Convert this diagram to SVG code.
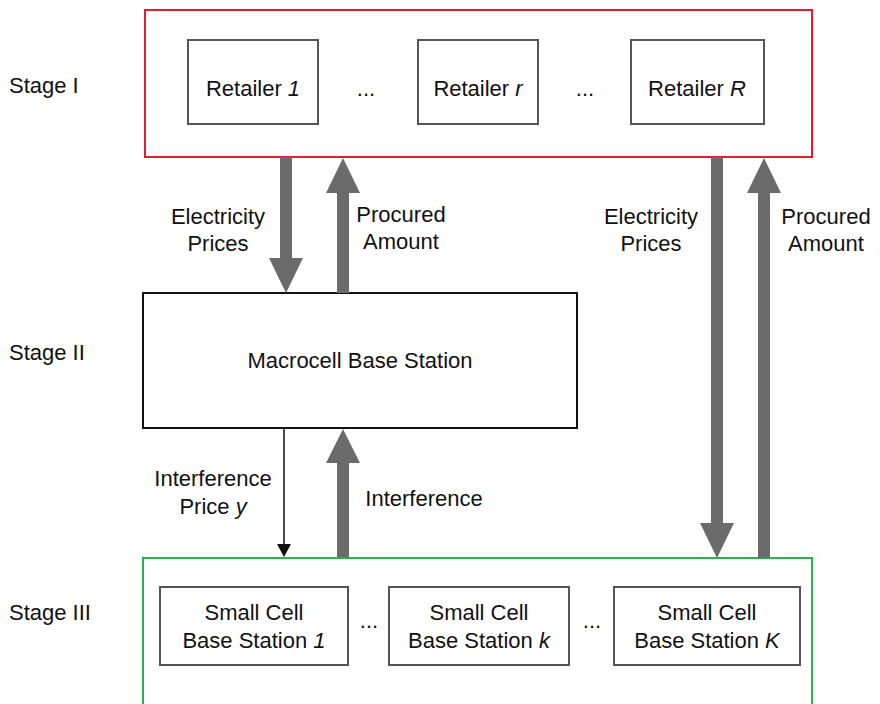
<svg xmlns="http://www.w3.org/2000/svg" width="880" height="704" viewBox="0 0 880 704">
  <style>
    text { font-family: "Liberation Sans", Arial, sans-serif; font-size: 22px; fill: #111; }
    .c { text-anchor: middle; }
    .box { fill: #fff; stroke: #555; stroke-width: 2; }
    .thick { fill: #6b6b6b; }
  </style>
  <rect width="880" height="704" fill="#fff"/>

  <!-- stage labels -->
  <g id="stage-labels">
    <text x="9" y="93">Stage I</text>
    <text x="9" y="360">Stage II</text>
    <text x="9" y="620">Stage III</text>
  </g>

  <!-- Stage I: retailers -->
  <g id="retailers">
    <rect x="145" y="10" width="667" height="147" fill="#fff" stroke="#e0202a" stroke-width="2"/>
  </g>
  <g id="retailer-1">
    <rect class="box" x="188" y="40" width="130" height="84"/>
    <text class="c" x="253" y="96">Retailer <tspan font-style="italic">1</tspan></text>
  </g>
  <text class="c" x="366" y="96" font-size="18">...</text>
  <g id="retailer-r">
    <rect class="box" x="418" y="40" width="120" height="84"/>
    <text class="c" x="478" y="96">Retailer <tspan font-style="italic">r</tspan></text>
  </g>
  <text class="c" x="585" y="96" font-size="18">...</text>
  <g id="retailer-R">
    <rect class="box" x="631" y="40" width="133" height="84"/>
    <text class="c" x="697" y="96">Retailer <tspan font-style="italic">R</tspan></text>
  </g>

  <!-- Stage II: macrocell -->
  <g id="macrocell">
    <rect x="143" y="293" width="434" height="135" fill="#fff" stroke="#111" stroke-width="2"/>
    <text class="c" x="360" y="368">Macrocell Base Station</text>
  </g>

  <!-- Stage III: small cells -->
  <g id="small-cells">
    <rect x="143" y="558" width="669" height="150" fill="#fff" stroke="#2db04f" stroke-width="2"/>
  </g>
  <g id="small-cell-1">
    <rect class="box" x="160" y="587" width="188" height="78"/>
    <text class="c" x="254" y="620">Small Cell</text>
    <text class="c" x="254" y="648">Base Station <tspan font-style="italic">1</tspan></text>
  </g>
  <text class="c" x="369" y="628" font-size="14">...</text>
  <g id="small-cell-k">
    <rect class="box" x="389" y="587" width="180" height="78"/>
    <text class="c" x="479" y="620">Small Cell</text>
    <text class="c" x="479" y="648">Base Station <tspan font-style="italic">k</tspan></text>
  </g>
  <text class="c" x="592" y="628" font-size="14">...</text>
  <g id="small-cell-K">
    <rect class="box" x="614" y="587" width="186" height="78"/>
    <text class="c" x="707" y="620">Small Cell</text>
    <text class="c" x="707" y="648">Base Station <tspan font-style="italic">K</tspan></text>
  </g>

  <!-- connectors -->
  <g id="connectors">
    <!-- retailers -> macrocell : prices (down) -->
    <path class="thick" d="M280 157 H292 V258 H303 L286 293 L269 258 H280 Z"/>
    <!-- macrocell -> retailers : amount (up) -->
    <path class="thick" d="M337 293 H349 V193 H360 L343 158 L326 193 H337 Z"/>
    <!-- retailers -> small cells : prices (down) -->
    <path class="thick" d="M711 157 H723 V523 H734 L717 558 L700 523 H711 Z"/>
    <!-- small cells -> retailers : amount (up) -->
    <path class="thick" d="M758 558 H770 V193 H781 L764 158 L747 193 H758 Z"/>
    <!-- macrocell -> small cells : interference price (thin) -->
    <line x1="284" y1="428" x2="284" y2="545" stroke="#111" stroke-width="1.5"/>
    <path d="M277 544 H291 L284 557 Z" fill="#111"/>
    <!-- small cells -> macrocell : interference (up) -->
    <path class="thick" d="M337 557 H349 V463 H360 L343 429 L326 463 H337 Z"/>
  </g>

  <!-- connector labels -->
  <g id="connector-labels">
    <text class="c" x="218" y="224">Electricity</text>
    <text class="c" x="218" y="251">Prices</text>
    <text class="c" x="401" y="222">Procured</text>
    <text class="c" x="401" y="249">Amount</text>
    <text class="c" x="651" y="224">Electricity</text>
    <text class="c" x="651" y="251">Prices</text>
    <text class="c" x="826" y="224">Procured</text>
    <text class="c" x="826" y="251">Amount</text>
    <text class="c" x="213" y="486">Interference</text>
    <text class="c" x="213" y="514">Price <tspan font-style="italic">y</tspan></text>
    <text class="c" x="424" y="506">Interference</text>
  </g>
</svg>
